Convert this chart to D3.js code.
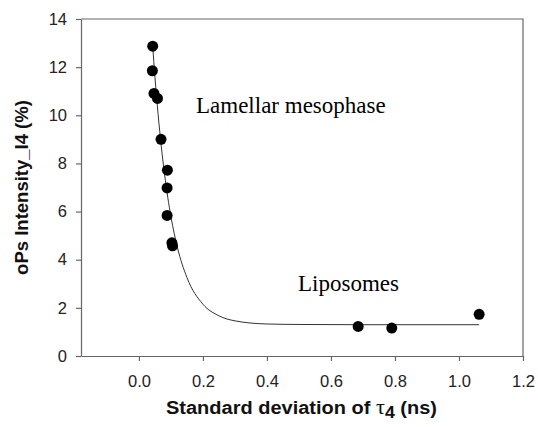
<!DOCTYPE html>
<html>
<head>
<meta charset="utf-8">
<script src="https://cdn.jsdelivr.net/npm/d3@7"></script>
<style>
  body { margin: 0; background: #fff; }
</style>
</head>
<body>
<div id="chart"></div>
<script>
// measured points (standard deviation of tau4 in ns, oPs intensity I4 in %)
var sdTau = [0.043, 0.042, 0.047, 0.058, 0.069, 0.089, 0.088, 0.088, 0.103, 0.105, 0.685, 0.790, 1.063];
var intensity = [12.87, 11.85, 10.91, 10.70, 9.00, 7.72, 6.98, 5.84, 4.70, 4.58, 1.23, 1.16, 1.73];

// fitted decay line
var fitX = [0.043, 0.05, 0.06, 0.07, 0.08, 0.09, 0.10, 0.12, 0.15, 0.20, 0.25, 0.30, 0.40, 0.50, 0.70, 0.90, 1.063];
var fitY = [12.87, 11.60, 10.03, 8.69, 7.56, 6.60, 5.79, 4.52, 3.26, 2.15, 1.67, 1.46, 1.33, 1.31, 1.30, 1.30, 1.30];

var xTicks = [0.0, 0.2, 0.4, 0.6, 0.8, 1.0, 1.2];
var yTicks = [0, 2, 4, 6, 8, 10, 12, 14];

var margin = {top: 19, right: 15, bottom: 71, left: 81},
  width = 538 - margin.left - margin.right,
  height = 427 - margin.top - margin.bottom;

var svg = d3.select("#chart")
  .append("svg")
  .attr("width", 538)
  .attr("height", 427)
  .append("g")
  .attr("transform", "translate(" + margin.left + "," + margin.top + ")");

var x = d3.scaleLinear().domain([-0.181, 1.2]).range([0, width]);
var y = d3.scaleLinear().domain([0, 14]).range([height, 0]);

var axisColor = "#666";

// frame (top and right)
svg.append("path")
  .attr("d", "M0,0H" + width + "V" + height)
  .attr("fill", "none")
  .attr("stroke", axisColor)
  .attr("stroke-width", 1.2);

// axes
var xAxis = svg.append("g")
  .attr("transform", "translate(0," + height + ")")
  .call(d3.axisBottom(x).tickValues(xTicks).tickFormat(d3.format(".1f")).tickSize(5).tickPadding(14).tickSizeOuter(0));

var yAxis = svg.append("g")
  .call(d3.axisLeft(y).tickValues(yTicks).tickSize(5).tickPadding(9).tickSizeOuter(0));

[xAxis, yAxis].forEach(function(a) {
  a.select(".domain").attr("stroke", axisColor).attr("stroke-width", 1.2);
  a.selectAll(".tick line").attr("stroke", axisColor).attr("stroke-width", 1.2);
  a.selectAll(".tick text")
    .style("font-family", "'Liberation Sans', Arial, sans-serif")
    .style("font-size", "16.5px")
    .attr("fill", "#222");
});

// fitted curve
var fitData = fitX.map(function(d, i) { return [d, fitY[i]]; });
svg.append("path")
  .datum(fitData)
  .attr("fill", "none")
  .attr("stroke", "#333")
  .attr("stroke-width", 1)
  .attr("d", d3.line()
    .x(function(d) { return x(d[0]); })
    .y(function(d) { return y(d[1]); })
    .curve(d3.curveMonotoneX));

// points
svg.append("g")
  .selectAll("circle")
  .data(sdTau.map(function(d, i) { return [d, intensity[i]]; }))
  .enter()
  .append("circle")
    .attr("cx", function(d) { return x(d[0]); })
    .attr("cy", function(d) { return y(d[1]); })
    .attr("r", 5.5)
    .attr("fill", "#000");

// annotations
svg.append("text")
  .attr("x", 196 - margin.left)
  .attr("y", 113 - margin.top)
  .style("font-family", "'Liberation Serif', 'Times New Roman', serif")
  .style("font-size", "23px")
  .text("Lamellar mesophase");

svg.append("text")
  .attr("x", 298 - margin.left)
  .attr("y", 291 - margin.top)
  .style("font-family", "'Liberation Serif', 'Times New Roman', serif")
  .style("font-size", "23px")
  .text("Liposomes");

// axis titles
var xTitle = svg.append("text")
  .attr("x", 166 - margin.left)
  .attr("y", height + 58)
  .attr("textLength", 271)
  .attr("lengthAdjust", "spacingAndGlyphs")
  .style("font-family", "'Liberation Sans', Arial, sans-serif")
  .style("font-size", "18px")
  .style("font-weight", "bold")
  .attr("fill", "#111");
xTitle.append("tspan").text("Standard deviation of ");
xTitle.append("tspan").style("font-family", "'Liberation Serif', serif").style("font-weight", "normal").style("font-size", "20px").text("\u03c4");
xTitle.append("tspan").attr("dy", 4).style("font-size", "16px").text("4");
xTitle.append("tspan").attr("dy", -4).text(" (ns)");

svg.append("text")
  .attr("transform", "translate(" + (28 - margin.left) + "," + (height / 2) + ") rotate(-90)")
  .attr("text-anchor", "middle")
  .style("font-family", "'Liberation Sans', Arial, sans-serif")
  .style("font-size", "18.5px")
  .style("font-weight", "bold")
  .attr("fill", "#111")
  .text("oPs Intensity_I4 (%)");
</script>
</body>
</html>
